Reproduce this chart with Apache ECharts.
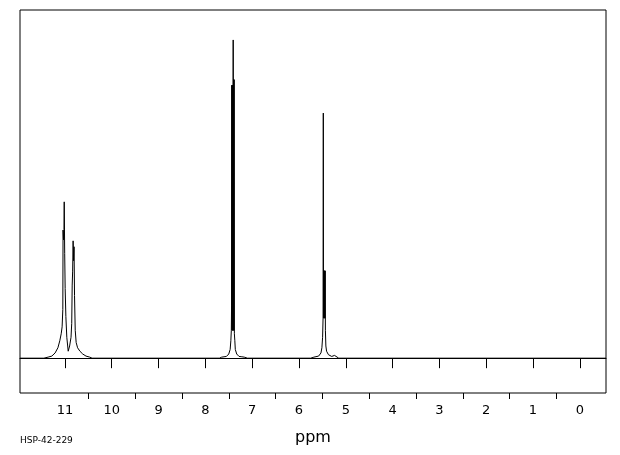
<!DOCTYPE html>
<html>
<head>
<meta charset="utf-8">
<script src="https://cdn.jsdelivr.net/npm/echarts@6/dist/echarts.min.js"></script>
<style>
html,body{margin:0;padding:0;background:#fff;}
#chart{width:620px;height:455px;}
</style>
</head>
<body>
<div id="chart"></div>
<script>
// Chemical shift (ppm) of each trace point
var shiftPpm = [
  11.96, 11.45, 11.36, 11.28, 11.21, 11.15, 11.11, 11.08, 11.06, 11.045,
  11.04, 11.03, 11.02, 11.015, 11.005, 10.995, 10.98, 10.96, 10.93, 10.90,
  10.87, 10.855, 10.845, 10.835, 10.825, 10.815, 10.805, 10.795, 10.78, 10.76,
  10.73, 10.68, 10.62, 10.55, 10.47, 10.42,
  7.70, 7.65, 7.63, 7.61, 7.55, 7.50, 7.47, 7.455, 7.445, 7.44,
  7.435, 7.43, 7.425, 7.42, 7.415, 7.41, 7.405, 7.40, 7.395, 7.39,
  7.385, 7.38, 7.37, 7.36, 7.33, 7.28, 7.22, 7.19, 7.17, 7.10,
  5.75, 5.68, 5.66, 5.64, 5.58, 5.53, 5.51, 5.495, 5.485, 5.48,
  5.475, 5.47, 5.465, 5.46, 5.455, 5.45, 5.445, 5.44, 5.435, 5.425,
  5.41, 5.37, 5.30, 5.24, 5.22, 5.15, -0.56
];
// Signal intensity (relative) at each point
var intensity = [
  0, 0, 0.3, 0.6, 1.5, 3, 5, 7, 9, 14,
  36.8, 34, 37, 44.9, 30, 20, 12, 6, 2, 3.5,
  6, 10, 21, 25, 33.7, 28, 32, 18, 8, 4.5,
  3, 2, 1.2, 0.6, 0.3, 0,
  0, 0.3, 0.8, 0.3, 0.5, 1.2, 2.5, 5, 8, 15,
  78.4, 8, 78.4, 8, 78.4, 8, 91.4, 8, 80, 8,
  80, 7, 5, 2.5, 1.2, 0.5, 0.4, 0.9, 0.3, 0,
  0, 0.3, 0.8, 0.3, 0.6, 1.5, 3, 6, 11.5, 70.4,
  11.5, 25.1, 11.5, 25.1, 11.5, 25.1, 11.5, 25.1, 8, 3.5,
  2, 1, 0.5, 0.8, 0.3, 0, 0
];
var majorTicks = [0, 1, 2, 3, 4, 5, 6, 7, 8, 9, 10, 11];
var minorTicks = [0.5, 1.5, 2.5, 3.5, 4.5, 5.5, 6.5, 7.5, 8.5, 9.5, 10.5];
var axisTitle = 'ppm';
var sampleId = 'HSP-42-229';

var points = shiftPpm.map(function (p, i) { return [p, intensity[i]]; });

var chart = echarts.init(document.getElementById('chart'), null, {renderer: 'canvas'});
var font = 'DejaVu Sans';
chart.setOption({
  animation: false,
  backgroundColor: '#ffffff',
  grid: {
    left: 20, top: 10, right: 14, bottom: 62,
    show: true, borderColor: '#000', borderWidth: 1, backgroundColor: 'transparent'
  },
  xAxis: [{
    type: 'value', inverse: true, min: -0.56, max: 11.96,
    position: 'bottom',
    axisLine: {show: true, lineStyle: {color: '#000', width: 1}},
    axisTick: {show: true, length: 10, lineStyle: {color: '#000', width: 1}, customValues: majorTicks},
    axisLabel: {show: true, margin: 11, color: '#000', fontSize: 13, fontFamily: font, customValues: majorTicks},
    splitLine: {show: false},
    name: axisTitle, nameLocation: 'middle', nameGap: 37,
    nameTextStyle: {color: '#000', fontSize: 16, fontFamily: font}
  }, {
    type: 'value', inverse: true, min: -0.56, max: 11.96,
    position: 'bottom',
    axisLine: {show: false},
    axisTick: {show: true, length: 6, lineStyle: {color: '#000', width: 1}, customValues: minorTicks},
    axisLabel: {show: false},
    splitLine: {show: false}
  }],
  yAxis: {
    type: 'value', min: -10, max: 100, show: false,
    splitLine: {show: false}
  },
  graphic: [{
    type: 'text', left: 20, top: 436,
    style: {text: sampleId, fill: '#000', font: '9px ' + font}
  }],
  series: [{
    type: 'line', xAxisIndex: 0, data: points,
    showSymbol: false, symbol: 'none', smooth: false, sampling: null,
    lineStyle: {color: '#000', width: 1},
    silent: true
  }]
});
</script>
</body>
</html>
